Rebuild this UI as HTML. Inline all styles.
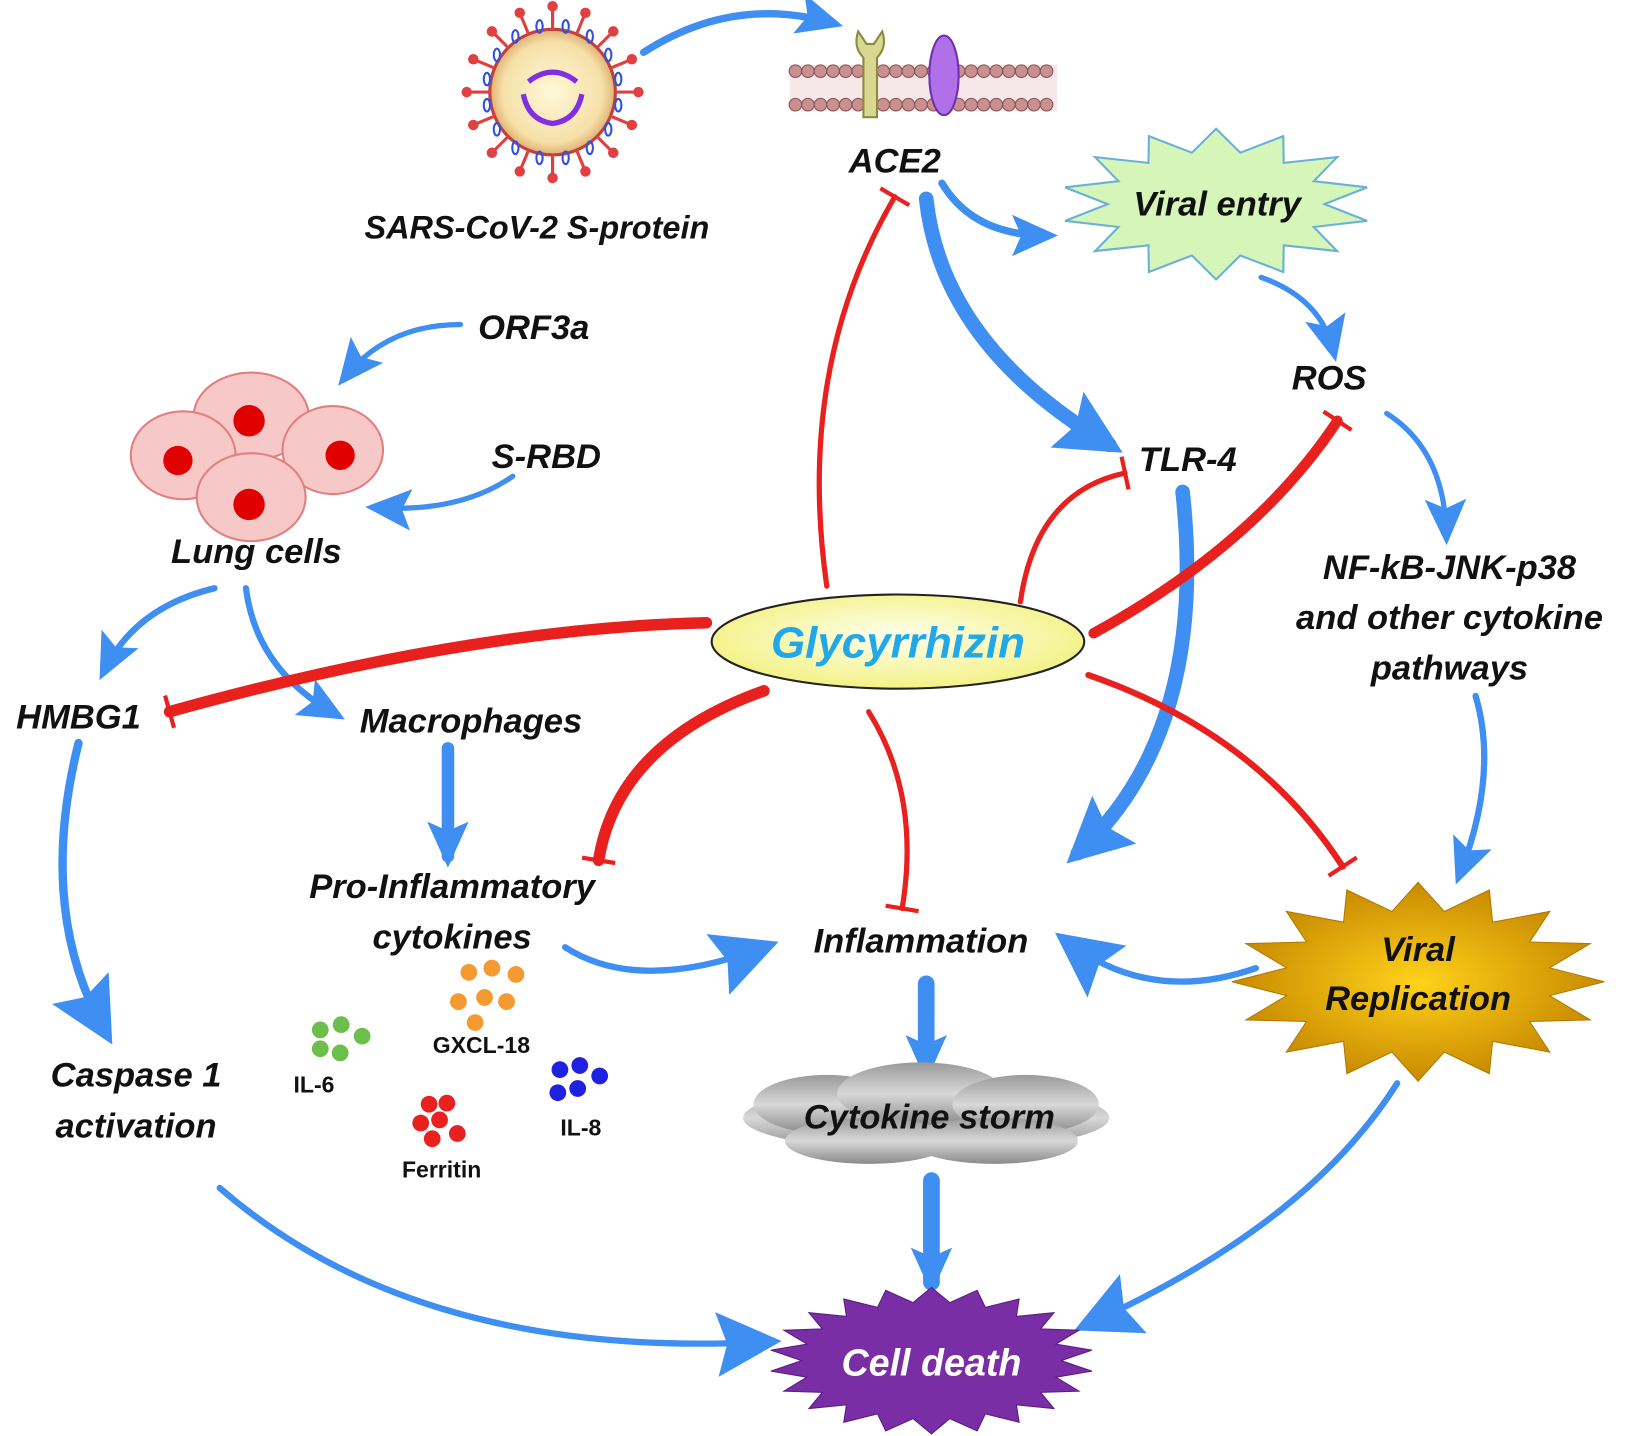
<!DOCTYPE html>
<html><head><meta charset="utf-8"><style>
html,body{margin:0;padding:0;background:#fff;}
svg{display:block;}
text{font-family:"Liberation Sans",Arial,sans-serif;font-weight:bold;font-style:italic;fill:#111;}
</style></head><body>
<svg width="1641" height="1436" viewBox="0 0 1568 1372" preserveAspectRatio="none" xmlns="http://www.w3.org/2000/svg">
<defs>
<marker id="ab" markerUnits="userSpaceOnUse" markerWidth="44" markerHeight="44" refX="30" refY="20" orient="auto" viewBox="0 0 40 40"><path d="M0,2 L40,20 L0,38 L8,20 Z" fill="#3f8ef2"/></marker>
<marker id="abL" markerUnits="userSpaceOnUse" markerWidth="62" markerHeight="62" refX="38" refY="25" orient="auto" viewBox="0 0 50 50"><path d="M0,0 L50,25 L0,50 L8,25 Z" fill="#3f8ef2"/></marker>
<marker id="rb" markerUnits="userSpaceOnUse" markerWidth="30" markerHeight="40" refX="2" refY="20" orient="auto" viewBox="0 0 6 40"><rect x="0" y="4" width="4" height="32" fill="#e8201e"/></marker>
<radialGradient id="gy" cx="50%" cy="45%" r="60%"><stop offset="0" stop-color="#fffff0"/><stop offset="1" stop-color="#f2f07a"/></radialGradient>
<radialGradient id="gv" cx="50%" cy="50%" r="50%"><stop offset="0" stop-color="#fff8d8"/><stop offset="0.8" stop-color="#f5e0a8"/><stop offset="1" stop-color="#e0b070"/></radialGradient>
<linearGradient id="gs" x1="0" y1="0" x2="0" y2="1"><stop offset="0" stop-color="#9a9a9a"/><stop offset="0.5" stop-color="#d8d8d8"/><stop offset="1" stop-color="#8a8a8a"/></linearGradient>
<radialGradient id="gr" cx="50%" cy="50%" r="50%"><stop offset="0" stop-color="#ffd21a"/><stop offset="1" stop-color="#c88a00"/></radialGradient>
</defs>

<g fill="none" stroke="#3f8ef2" stroke-linecap="round">
<path d="M615,50 Q700,-5 795,22" stroke-width="7" marker-end="url(#ab)"/>
<path d="M900,175 Q930,225 1000,225" stroke-width="7" marker-end="url(#ab)"/>
<path d="M885,190 Q900,330 1060,425" stroke-width="14" marker-end="url(#abL)"/>
<path d="M1205,265 Q1262,285 1274,335" stroke-width="5" marker-end="url(#ab)"/>
<path d="M440,310 Q370,310 330,360" stroke-width="5" marker-end="url(#ab)"/>
<path d="M490,455 Q440,490 360,485" stroke-width="5" marker-end="url(#ab)"/>
<path d="M205,562 Q130,580 100,640" stroke-width="6" marker-end="url(#ab)"/>
<path d="M235,562 Q245,640 320,682" stroke-width="6" marker-end="url(#ab)"/>
<path d="M428,715 L428,818" stroke-width="12" marker-end="url(#ab)"/>
<path d="M1325,395 Q1380,430 1382,510" stroke-width="5" marker-end="url(#ab)"/>
<path d="M1410,665 Q1432,740 1395,835" stroke-width="6" marker-end="url(#ab)"/>
<path d="M1130,470 Q1155,700 1030,815" stroke-width="14" marker-end="url(#abL)"/>
<path d="M75,710 Q35,870 100,985" stroke-width="8" marker-end="url(#abL)"/>
<path d="M540,905 Q610,950 730,905" stroke-width="6" marker-end="url(#abL)"/>
<path d="M1200,925 Q1100,960 1020,900" stroke-width="6" marker-end="url(#abL)"/>
<path d="M885,940 L885,1022" stroke-width="16" marker-end="url(#ab)"/>
<path d="M890,1128 L890,1225" stroke-width="16" marker-end="url(#ab)"/>
<path d="M210,1135 Q400,1300 732,1282" stroke-width="6" marker-end="url(#abL)"/>
<path d="M1335,1035 Q1250,1170 1040,1265" stroke-width="6" marker-end="url(#abL)"/>
</g>

<g fill="none" stroke="#e8201e" stroke-linecap="round">
<path d="M790,560 Q760,350 855,188" stroke-width="5" marker-end="url(#rb)"/>
<path d="M975,575 Q990,470 1075,452" stroke-width="5" marker-end="url(#rb)"/>
<path d="M1045,605 Q1200,520 1278,402" stroke-width="10" marker-end="url(#rb)"/>
<path d="M675,595 Q450,600 162,680" stroke-width="11" marker-end="url(#rb)"/>
<path d="M730,660 Q590,710 572,822" stroke-width="11" marker-end="url(#rb)"/>
<path d="M830,680 Q880,760 862,868" stroke-width="5" marker-end="url(#rb)"/>
<path d="M1040,645 Q1200,700 1283,828" stroke-width="6" marker-end="url(#rb)"/>
</g>

<g id="virus">
<circle cx="528" cy="88" r="60" fill="url(#gv)" stroke="#c04040" stroke-width="3"/>
<path d="M500,90 Q505,115 528,118 Q551,115 556,90 M505,78 Q528,60 551,78" stroke="#8030e0" stroke-width="5" fill="none"/>
</g>

<g>
<rect x="755" y="62" width="255" height="44" fill="#f6e8e8"/>
<g fill="#c89090" stroke="#8a5050" stroke-width="1" id="lipids"></g>
<path d="M820,30 Q815,45 825,55 L825,112 L838,112 L838,55 Q848,45 843,30 L835,42 L828,42 Z" fill="#d8d890" stroke="#8a8a40" stroke-width="2"/>
<ellipse cx="902" cy="72" rx="14" ry="38" fill="#b070e8" stroke="#7030b0" stroke-width="2"/>
</g>

<polygon id="stVE" fill="#d6f5b8" stroke="#6ab0d8" stroke-width="2"/>
<polygon id="stVR" fill="url(#gr)" stroke="#b07800" stroke-width="1"/>
<polygon id="stCD" fill="#7a2ea6" stroke="#5a1a80" stroke-width="1"/>

<g fill="url(#gs)">
<ellipse cx="885" cy="1068" rx="175" ry="32"/>
<ellipse cx="790" cy="1055" rx="70" ry="28"/>
<ellipse cx="880" cy="1045" rx="80" ry="30"/>
<ellipse cx="980" cy="1055" rx="70" ry="28"/>
<ellipse cx="830" cy="1090" rx="80" ry="22"/>
<ellipse cx="950" cy="1090" rx="80" ry="22"/>
</g>

<g>
<ellipse cx="240" cy="398" rx="55" ry="42" fill="#f7c8c8" stroke="#e08080" stroke-width="2"/>
<ellipse cx="175" cy="435" rx="50" ry="42" fill="#f7c8c8" stroke="#e08080" stroke-width="2"/>
<ellipse cx="318" cy="430" rx="48" ry="42" fill="#f7c8c8" stroke="#e08080" stroke-width="2"/>
<ellipse cx="240" cy="475" rx="52" ry="42" fill="#f7c8c8" stroke="#e08080" stroke-width="2"/>
<circle cx="238" cy="402" r="15" fill="#e00000"/>
<circle cx="170" cy="440" r="14" fill="#e00000"/>
<circle cx="325" cy="435" r="14" fill="#e00000"/>
<circle cx="238" cy="482" r="15" fill="#e00000"/>
</g>

<g id="parts"></g>

<ellipse cx="858" cy="613" rx="178" ry="45" fill="url(#gy)" stroke="#222" stroke-width="2"/>
<text x="858" y="628" text-anchor="middle" font-size="42" style="fill:#22a8e8">Glycyrrhizin</text>

<g font-size="33">
<text x="513" y="228" text-anchor="middle" font-size="31">SARS-CoV-2 S-protein</text>
<text x="855" y="165" text-anchor="middle">ACE2</text>
<text x="1163" y="206" text-anchor="middle">Viral entry</text>
<text x="1270" y="372" text-anchor="middle">ROS</text>
<text x="1135" y="450" text-anchor="middle">TLR-4</text>
<text x="510" y="324" text-anchor="middle">ORF3a</text>
<text x="522" y="447" text-anchor="middle">S-RBD</text>
<text x="245" y="538" text-anchor="middle">Lung cells</text>
<text x="75" y="696" text-anchor="middle">HMBG1</text>
<text x="450" y="700" text-anchor="middle">Macrophages</text>
<text x="1385" y="553" text-anchor="middle">NF-kB-JNK-p38</text>
<text x="1385" y="601" text-anchor="middle">and other cytokine</text>
<text x="1385" y="649" text-anchor="middle">pathways</text>
<text x="432" y="858" text-anchor="middle">Pro-Inflammatory</text>
<text x="432" y="906" text-anchor="middle">cytokines</text>
<text x="880" y="910" text-anchor="middle">Inflammation</text>
<text x="1355" y="918" text-anchor="middle">Viral</text>
<text x="1355" y="965" text-anchor="middle">Replication</text>
<text x="130" y="1038" text-anchor="middle">Caspase 1</text>
<text x="130" y="1087" text-anchor="middle">activation</text>
<text x="888" y="1078" text-anchor="middle">Cytokine storm</text>
<text x="890" y="1314" text-anchor="middle" style="fill:#fff" font-size="36">Cell death</text>
</g>
<g font-size="22">
<text x="300" y="1044" text-anchor="middle" style="font-style:normal">IL-6</text>
<text x="460" y="1006" text-anchor="middle" style="font-style:normal">GXCL-18</text>
<text x="555" y="1085" text-anchor="middle" style="font-style:normal">IL-8</text>
<text x="422" y="1125" text-anchor="middle" style="font-style:normal">Ferritin</text>
</g>

<script>
function star(id,cx,cy,n,ro,ri,sx,sy){var p=[];for(var i=0;i<2*n;i++){var a=Math.PI*i/n-Math.PI/2;var r=i%2?ri:ro;p.push((cx+Math.cos(a)*r*sx).toFixed(1)+','+(cy+Math.sin(a)*r*sy).toFixed(1));}document.getElementById(id).setAttribute('points',p.join(' '));}
star('stVE',1162,195,14,1,0.7,148,72);
star('stVR',1355,938,16,1,0.72,178,95);
star('stCD',890,1300,22,1,0.8,155,70);
var ns='http://www.w3.org/2000/svg';
var L=document.getElementById('lipids');
for(var x=760;x<1010;x+=12){for(var k=0;k<2;k++){var c=document.createElementNS(ns,'circle');c.setAttribute('cx',x);c.setAttribute('cy',k?100:68);c.setAttribute('r',6);L.appendChild(c);}}
var V=document.getElementById('virus');
for(var i=0;i<16;i++){var a=2*Math.PI*i/16;var c1=document.createElementNS(ns,'line');c1.setAttribute('x1',528+Math.cos(a)*60);c1.setAttribute('y1',88+Math.sin(a)*60);c1.setAttribute('x2',528+Math.cos(a)*80);c1.setAttribute('y2',88+Math.sin(a)*80);c1.setAttribute('stroke','#e04040');c1.setAttribute('stroke-width','3');V.appendChild(c1);var cc=document.createElementNS(ns,'circle');cc.setAttribute('cx',528+Math.cos(a)*82);cc.setAttribute('cy',88+Math.sin(a)*82);cc.setAttribute('r',5);cc.setAttribute('fill','#e04040');V.appendChild(cc);var b=a+Math.PI/16;var e=document.createElementNS(ns,'ellipse');e.setAttribute('cx',528+Math.cos(b)*64);e.setAttribute('cy',88+Math.sin(b)*64);e.setAttribute('rx',3);e.setAttribute('ry',6);e.setAttribute('fill','none');e.setAttribute('stroke','#3050e0');e.setAttribute('stroke-width','2');V.appendChild(e);}
var P=document.getElementById('parts');
var groups=[['#6cbf4a',[[306,1014],[326,1009],[346,1020],[306,1032],[325,1036]].map(function(q){return [q[0],q[1]-30]})],
['#f49a30',[[448,964],[470,960],[493,966],[438,992],[463,988],[484,992],[454,1012]].map(function(q){return [q[0],q[1]-35]})],
['#2020e0',[[565,1062],[584,1058],[603,1068],[563,1084],[582,1080]].map(function(q){return [q[0]-30,q[1]-40]})],
['#e82020',[[410,1105],[427,1104],[402,1123],[420,1120],[413,1138],[437,1133]].map(function(q){return [q[0],q[1]-50]})]];
groups.forEach(function(g){g[1].forEach(function(q){var c=document.createElementNS(ns,'circle');c.setAttribute('cx',q[0]);c.setAttribute('cy',q[1]);c.setAttribute('r',8);c.setAttribute('fill',g[0]);P.appendChild(c);});});
</script>
</svg>
</body></html>
